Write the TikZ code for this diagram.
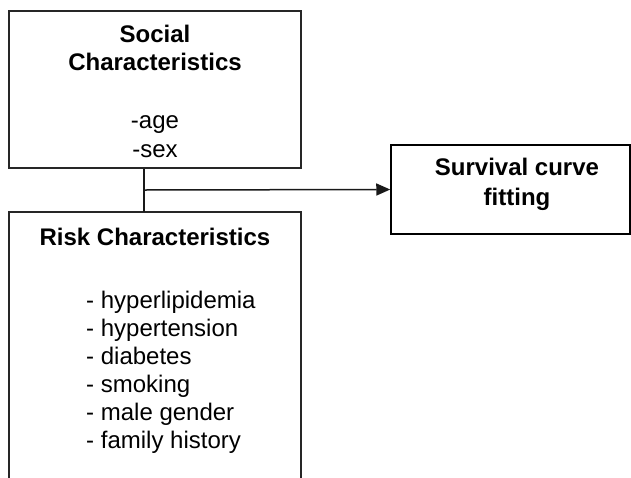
\documentclass[tikz,border=0pt]{standalone}
\usepackage{fontspec}
\setmainfont{Liberation Sans}
\usetikzlibrary{arrows.meta}
\begin{document}
\begin{tikzpicture}[x=1pt,y=-1pt,
  boxline/.style={draw=black!85,line width=1.5pt},
  ttl/.style={font=\fontsize{24}{28}\selectfont\bfseries,anchor=base,inner sep=0pt},
  itm/.style={font=\fontsize{24}{28}\selectfont,anchor=base,inner sep=0pt},
  itml/.style={font=\fontsize{24}{28}\selectfont,anchor=base west,inner sep=0pt},
  conn/.style={draw=black!90,line width=1.5pt}]
\useasboundingbox (0,0) rectangle (631,477);
% boxes
\node[boxline,minimum width=292pt,minimum height=157pt,inner sep=0pt] (social) at (155,89.5) {};
\node[boxline,draw=black,minimum width=239pt,minimum height=89pt,inner sep=0pt] (surv) at (510.5,189.5) {};
\coordinate (rtop) at (155,212);
\coordinate (rl) at (9,478);
\coordinate (rr) at (301,478);
\draw[boxline] (rl) |- (rtop) -| (rr);
% social texts
\node[ttl] (s1) at (155,42) {Social};
\node[ttl] (s2) at (155,70) {Characteristics};
\node[itm] (s3) at (155,128) {-age};
\node[itm] (s4) at (155,157) {-sex};
% risk texts
\node[ttl] (r0) at (155,245) {Risk Characteristics};
\node[itml] (r1) at (86,308) {- hyperlipidemia};
\node[itml] (r2) at (86,336) {- hypertension};
\node[itml] (r3) at (86,364) {- diabetes};
\node[itml] (r4) at (86,392) {- smoking};
\node[itml] (r5) at (86,420) {- male gender};
\node[itml] (r6) at (86,448) {- family history};
% survival texts
\node[ttl] (v1) at (517,175) {Survival curve};
\node[ttl] (v2) at (517,205) {fitting};
% connectors
\coordinate (j) at (144,190);
\draw[conn] (social.south -| j) -- (rtop -| j);
\draw[conn,-{Triangle[length=14pt,width=12pt]}] (j) -- (surv.west);
\end{tikzpicture}
\end{document}
